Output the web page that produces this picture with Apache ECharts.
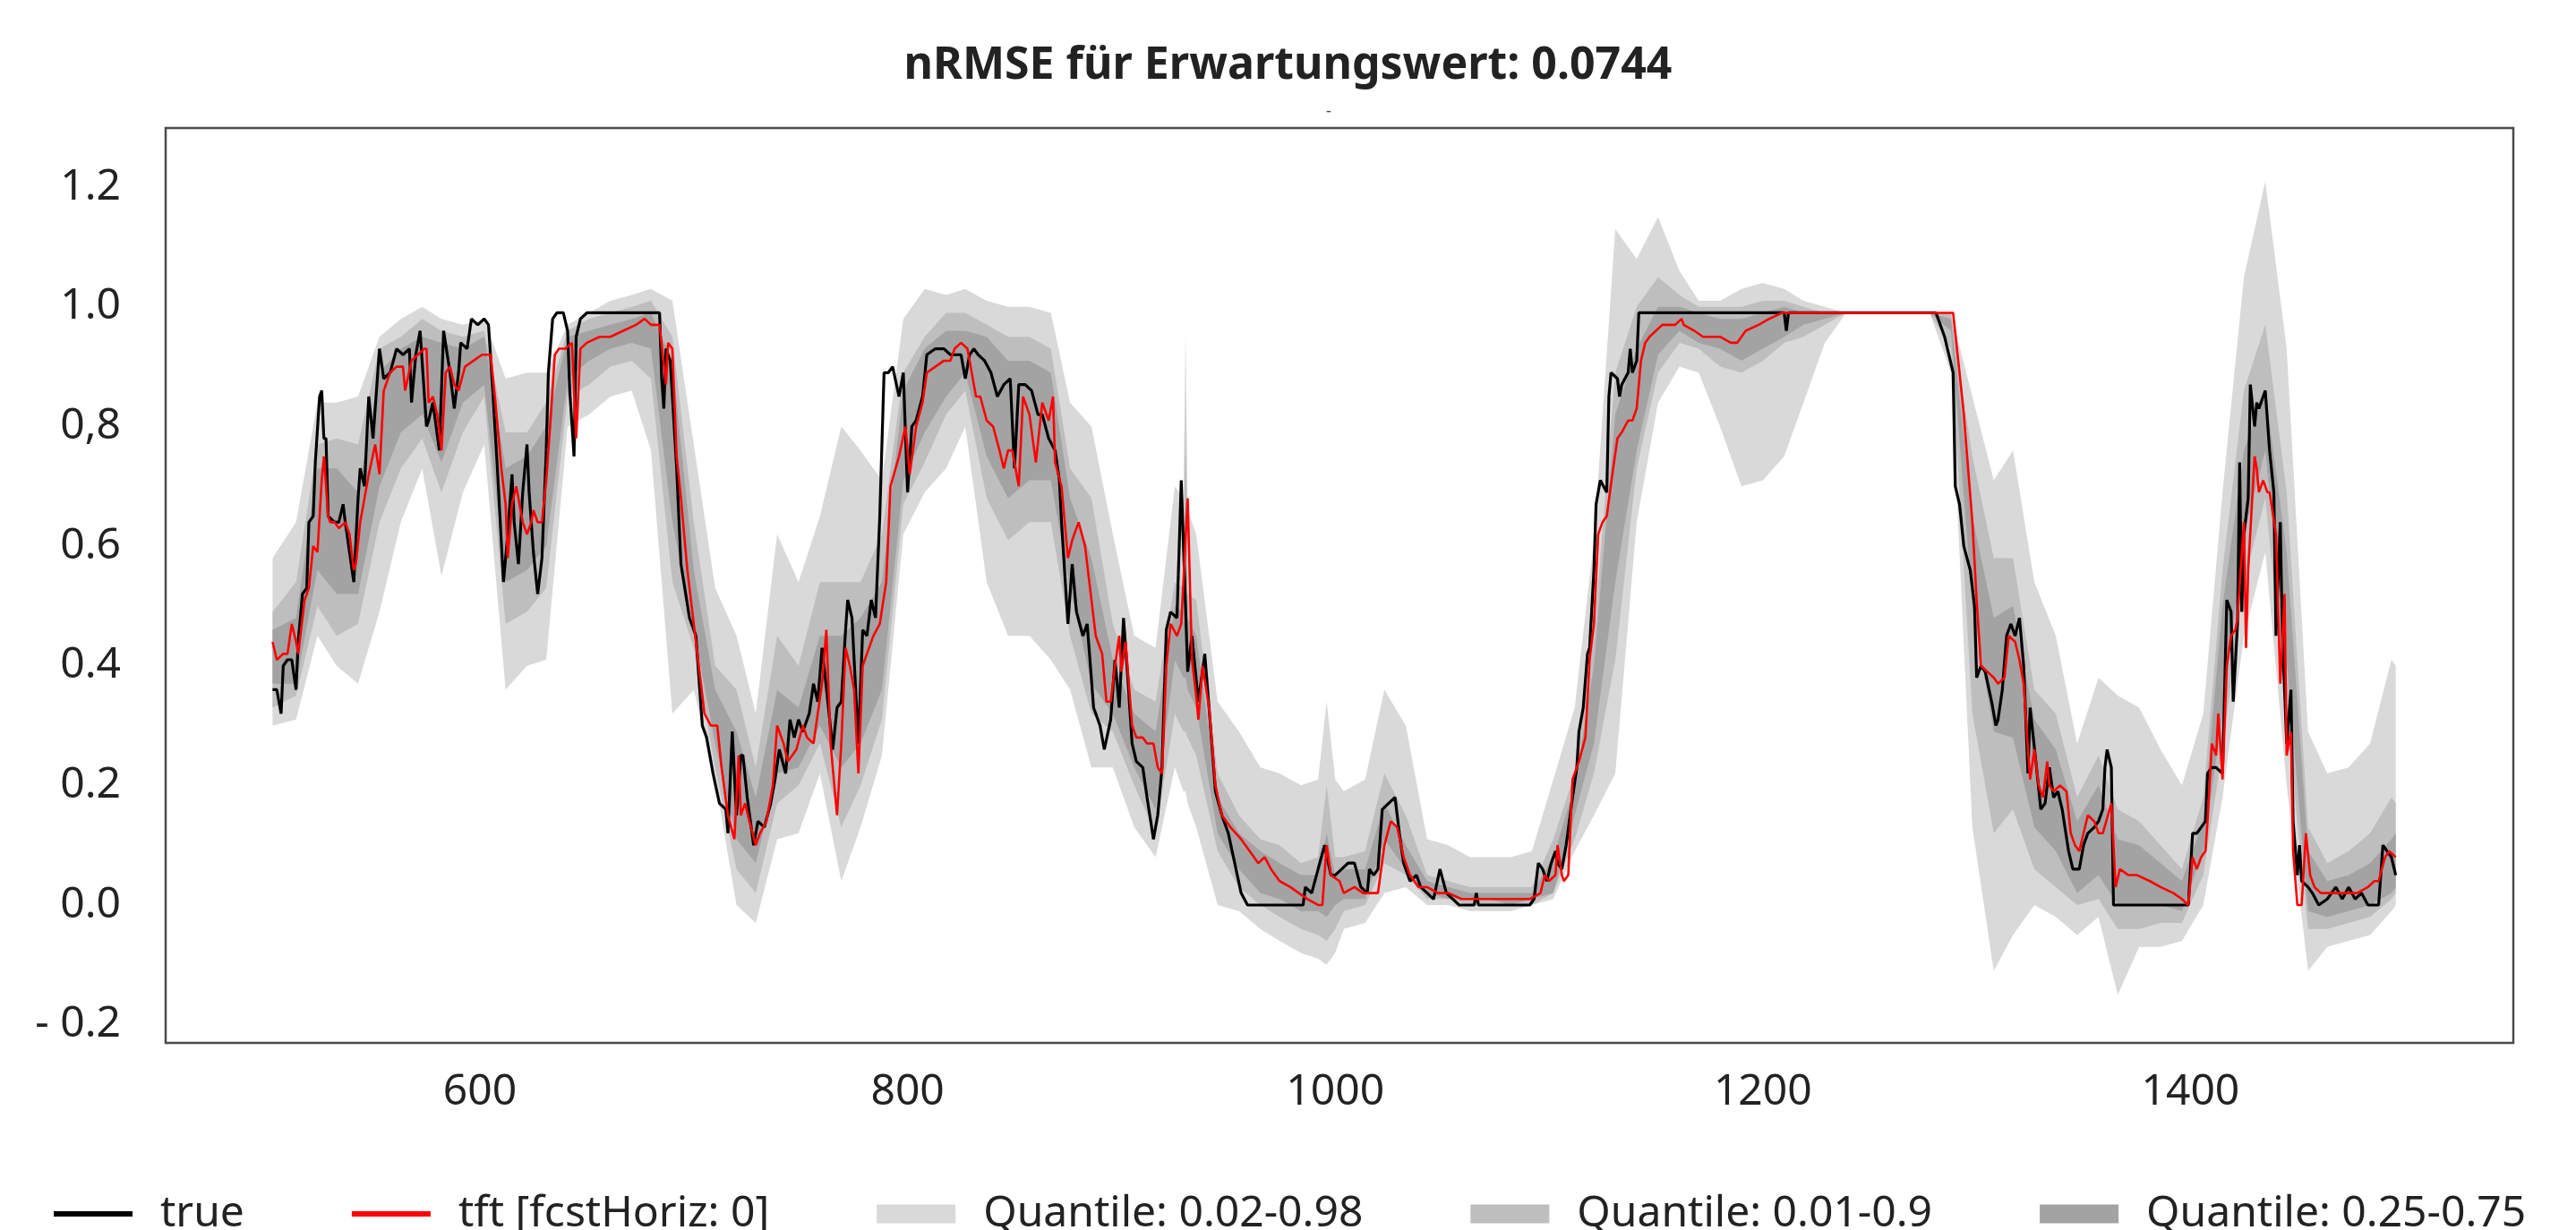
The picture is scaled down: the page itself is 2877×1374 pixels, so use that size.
<!DOCTYPE html>
<html>
<head>
<meta charset="utf-8">
<script src="https://cdn.jsdelivr.net/npm/echarts@6/dist/echarts.min.js"></script>
<style>
html, body { margin: 0; padding: 0; background: #ffffff; }
#main { width: 2877px; height: 1374px; }
</style>
</head>
<body>
<div id="main"></div>
<script>
// tick labels
var xTickValues = [600, 800, 1000, 1200, 1400];
var yTickValues = [-0.2, 0, 0.2, 0.4, 0.6, 0.8, 1.0, 1.2];
var yTickLabels = ['- 0.2', '0.0', '0.2', '0.4', '0.6', '0,8', '1.0', '1.2'];

// true values
var trueX = [
  503,505,507,508,510,512,514,515,517,519,
  520,522,523,525,526,527,528,529,532,534,
  536,537,539,541,543,544,546,548,550,553,
  555,558,561,564,567,568,570,572,575,576,
  578,581,583,586,588,590,591,594,596,599,
  602,604,606,608,611,613,615,616,618,620,
  622,623,625,627,629,631,632,634,636,639,
  641,642,644,645,647,650,653,667,684,685,
  686,687,689,692,694,698,701,704,706,709,
  712,715,716,718,720,722,723,725,728,730,
  733,736,738,740,743,745,747,749,751,754,
  756,758,760,763,765,767,769,771,772,774,
  777,779,781,783,785,787,789,791,793,796,
  798,800,802,804,807,809,813,817,820,822,
  825,827,829,831,833,836,839,842,845,848,
  850,852,855,858,861,863,866,869,871,872,
  875,877,879,882,884,887,890,892,895,897,
  899,901,903,905,907,910,912,915,917,919,
  921,923,926,928,930,931,933,936,939,941,
  944,947,950,953,956,959,985,986,989,992,
  995,998,1000,1003,1006,1009,1012,1015,1016,1018,
  1020,1022,1025,1028,1030,1032,1035,1038,1040,1043,
  1046,1049,1052,1055,1058,1065,1066,1067,1091,1093,
  1095,1097,1099,1101,1103,1104,1106,1108,1111,1113,
  1114,1116,1118,1119,1121,1122,1124,1127,1128,1129,
  1132,1133,1134,1137,1138,1139,1141,1142,1210,1211,
  1212,1281,1283,1285,1287,1289,1290,1292,1294,1297,
  1299,1300,1302,1304,1307,1309,1310,1312,1314,1316,
  1318,1320,1322,1324,1325,1328,1330,1332,1334,1336,
  1338,1340,1343,1345,1348,1350,1352,1355,1357,1359,
  1360,1361,1363,1364,1399,1401,1403,1405,1407,1408,
  1410,1412,1415,1417,1419,1420,1422,1423,1424,1425,
  1427,1428,1430,1431,1432,1435,1437,1439,1440,1442,
  1443,1445,1447,1448,1450,1451,1452,1455,1457,1460,
  1464,1468,1471,1474,1477,1480,1483,1488,1490,1492,
  1494,1496
];
var trueY = [
  .36,.36,.32,.40,.41,.41,.36,.44,.52,.53,
  .64,.65,.74,.85,.86,.78,.78,.65,.64,.64,
  .67,.64,.59,.54,.68,.73,.70,.85,.78,.93,
  .88,.89,.93,.92,.93,.84,.92,.96,.80,.81,
  .84,.76,.96,.89,.83,.89,.94,.93,.98,.97,
  .98,.97,.86,.74,.54,.62,.72,.64,.57,.69,
  .77,.69,.59,.52,.58,.76,.89,.98,.99,.99,
  .96,.86,.75,.95,.98,.99,.99,.99,.99,.88,
  .83,.93,.91,.73,.57,.48,.45,.30,.28,.22,
  .17,.16,.12,.29,.15,.25,.25,.18,.10,.14,
  .13,.17,.21,.26,.22,.31,.28,.31,.29,.32,
  .37,.34,.43,.33,.26,.33,.34,.46,.51,.48,
  .27,.46,.45,.51,.48,.65,.89,.89,.90,.85,
  .89,.69,.80,.81,.85,.92,.93,.93,.92,.92,
  .92,.88,.92,.93,.92,.91,.89,.85,.87,.88,
  .73,.87,.87,.86,.82,.82,.78,.76,.71,.64,
  .47,.57,.49,.45,.47,.33,.30,.26,.31,.41,
  .33,.48,.38,.27,.24,.23,.18,.11,.15,.23,
  .46,.49,.48,.71,.50,.39,.45,.34,.42,.33,
  .19,.15,.12,.07,.02,.00,.00,.03,.02,.06,
  .10,.05,.05,.06,.07,.07,.03,.02,.06,.05,
  .06,.16,.17,.18,.12,.07,.04,.05,.03,.02,
  .01,.06,.02,.01,.00,.00,.02,.00,.00,.01,
  .07,.06,.04,.07,.09,.07,.06,.10,.18,.23,
  .29,.33,.42,.43,.56,.67,.71,.69,.85,.89,
  .88,.85,.87,.89,.93,.89,.91,.99,.99,.96,
  .99,.99,.97,.95,.92,.89,.70,.67,.60,.56,
  .50,.38,.40,.39,.34,.30,.31,.36,.45,.47,
  .45,.48,.40,.22,.33,.23,.16,.17,.23,.18,
  .19,.16,.09,.06,.06,.10,.12,.13,.14,.16,
  .23,.26,.23,.00,.00,.12,.12,.13,.14,.22,
  .23,.23,.22,.51,.49,.34,.47,.74,.49,.62,
  .68,.87,.80,.84,.83,.86,.76,.69,.45,.64,
  .45,.27,.36,.14,.05,.10,.04,.03,.02,.00,
  .01,.03,.01,.03,.01,.02,.00,.00,.10,.09,
  .08,.05
];

// tft forecast, horizon 0
var predX = [
  503,505,508,510,512,514,515,518,520,522,
  524,526,527,529,530,532,534,537,539,541,
  542,544,546,548,551,553,555,558,561,564,
  565,568,571,574,575,576,578,580,582,584,
  586,588,590,593,597,601,605,607,610,612,
  613,615,617,620,622,624,625,627,629,631,
  633,635,637,640,643,645,647,650,656,661,
  667,673,677,680,684,687,688,690,692,694,
  697,699,702,705,708,711,713,716,719,721,
  722,724,726,729,731,734,737,739,742,744,
  746,748,751,753,756,758,760,762,764,767,
  769,770,771,773,775,777,779,781,784,787,
  790,792,796,799,801,804,807,809,813,817,
  820,822,825,828,829,832,834,837,840,843,
  845,847,849,852,854,857,860,863,866,868,
  869,872,875,877,880,883,885,888,891,893,
  895,897,899,900,902,905,907,910,912,915,
  917,919,921,923,926,928,931,933,935,936,
  938,941,944,947,951,956,960,964,967,970,
  974,979,983,987,992,994,996,998,1002,1004,
  1009,1013,1016,1020,1023,1026,1029,1032,1035,1039,
  1043,1048,1053,1059,1072,1087,1091,1096,1098,1100,
  1103,1104,1106,1107,1109,1111,1113,1114,1117,1119,
  1121,1123,1125,1127,1130,1132,1134,1137,1139,1141,
  1143,1145,1147,1150,1153,1156,1159,1162,1163,1168,
  1172,1176,1180,1185,1188,1192,1198,1203,1209,1219,
  1289,1292,1294,1296,1298,1300,1302,1305,1308,1310,
  1313,1315,1318,1320,1322,1324,1325,1327,1329,1331,
  1333,1334,1336,1339,1342,1344,1346,1348,1350,1352,
  1355,1357,1359,1363,1365,1367,1371,1375,1381,1386,
  1392,1396,1399,1401,1403,1405,1407,1408,1410,1412,
  1413,1415,1417,1419,1421,1422,1425,1426,1427,1430,
  1431,1432,1434,1436,1437,1440,1442,1444,1445,1447,
  1448,1450,1452,1454,1456,1458,1461,1466,1470,1474,
  1478,1483,1486,1488,1491,1493,1496
];
var predY = [
  .44,.41,.42,.42,.47,.44,.42,.51,.53,.60,
  .59,.71,.75,.65,.64,.64,.63,.64,.62,.56,
  .57,.64,.68,.72,.77,.72,.86,.89,.90,.90,
  .86,.91,.92,.93,.93,.84,.85,.82,.76,.89,
  .90,.87,.86,.90,.91,.92,.92,.85,.73,.67,
  .58,.67,.70,.64,.62,.64,.66,.64,.64,.71,
  .81,.92,.93,.93,.94,.78,.93,.94,.95,.95,
  .96,.97,.98,.97,.97,.87,.94,.93,.75,.68,
  .56,.50,.41,.32,.30,.30,.23,.15,.11,.25,
  .15,.17,.14,.10,.12,.14,.20,.30,.27,.24,
  .25,.26,.30,.28,.27,.32,.37,.46,.27,.15,
  .27,.35,.43,.40,.36,.22,.40,.42,.45,.47,
  .54,.70,.75,.80,.72,.80,.84,.89,.90,.91,
  .91,.93,.94,.93,.91,.85,.85,.81,.80,.76,
  .73,.76,.76,.70,.85,.82,.74,.84,.81,.85,
  .74,.70,.58,.61,.64,.60,.54,.45,.42,.34,
  .34,.40,.45,.39,.44,.30,.28,.28,.27,.27,
  .23,.22,.40,.47,.45,.47,.68,.41,.35,.31,
  .40,.33,.20,.15,.13,.11,.09,.07,.08,.06,
  .04,.03,.02,.01,.00,.00,.10,.05,.04,.02,
  .03,.02,.02,.02,.10,.14,.13,.08,.05,.03,
  .03,.02,.02,.01,.01,.01,.01,.02,.05,.04,
  .05,.10,.05,.04,.05,.21,.23,.24,.28,.41,
  .47,.62,.64,.65,.73,.78,.79,.81,.81,.83,
  .91,.94,.95,.96,.97,.97,.97,.98,.97,.96,
  .95,.95,.95,.94,.94,.96,.97,.98,.99,.99,
  .99,.89,.82,.73,.64,.51,.40,.39,.38,.37,
  .38,.45,.44,.41,.37,.26,.21,.26,.20,.18,
  .24,.20,.19,.20,.19,.12,.10,.09,.12,.15,
  .14,.12,.12,.17,.03,.06,.05,.05,.04,.03,
  .02,.01,.00,.08,.06,.08,.09,.14,.27,.25,
  .32,.21,.40,.45,.46,.48,.64,.43,.56,.75,
  .73,.69,.71,.69,.69,.62,.37,.52,.25,.29,
  .09,.00,.00,.12,.05,.03,.02,.02,.02,.02,
  .02,.03,.04,.04,.08,.09,.08
];

// quantile bands
var bandX = [
  503,514,524,533,543,553,563,573,582,592,
  602,612,622,631,641,651,661,671,680,690,
  700,710,720,729,739,749,759,769,778,788,
  798,808,818,827,837,847,857,867,876,886,
  896,906,916,925,929,930,931,935,945,955,965,974,984,
  992,996,1000,1004,1014,1023,1033,1043,1053,1063,1072,1082,
  1092,1102,1112,1121,1131,1141,1151,1161,1170,1180,
  1190,1200,1210,1219,1229,1239,1249,1259,1268,1278,
  1288,1298,1308,1317,1327,1337,1347,1357,1366,1376,
  1386,1396,1406,1415,1425,1435,1445,1455,1464,1474,
  1484,1494,1496
];
var q02Hi = [
  .58,.64,.84,.84,.85,.95,.98,1.00,.98,.97,
  .98,.88,.89,.89,.97,.99,1.01,1.02,1.03,1.01,
  .77,.53,.45,.32,.62,.54,.65,.80,.76,.71,
  .98,1.03,1.02,1.03,1.01,1.00,1.00,.99,.84,.80,
  .62,.45,.43,.70,.68,.96,.66,.62,.34,.29,.23,.22,.20,
  .21,.34,.21,.19,.21,.36,.30,.11,.10,.08,.08,.08,
  .09,.21,.33,.61,1.13,1.08,1.15,1.06,1.01,1.01,
  1.03,1.04,1.03,1.01,1.00,.99,.99,.99,.99,.99,
  .99,.85,.71,.76,.54,.45,.27,.38,.35,.33,
  .26,.20,.32,.69,1.05,1.21,.93,.29,.22,.23,
  .27,.41,.40
];
var q02Lo = [
  .30,.31,.45,.40,.37,.49,.64,.73,.55,.69,
  .77,.36,.40,.41,.80,.82,.85,.86,.76,.32,
  .36,.21,.00,-.03,.11,.12,.22,.04,.13,.25,
  .62,.69,.73,.80,.54,.45,.45,.41,.36,.23,
  .23,.13,.08,.23,.19,.19,.17,.13,.00,-.01,-.04,-.06,-.08,
  -.09,-.10,-.08,-.04,-.03,.02,.03,.00,.00,-.01,-.01,-.01,
  .00,.01,.09,.15,.22,.64,.84,.90,.89,.80,
  .70,.71,.75,.84,.94,.99,.99,.99,.99,.99,
  .89,.13,-.11,-.05,.00,-.02,-.05,-.02,-.15,-.07,
  -.07,-.06,.00,.18,.45,.59,.20,-.11,-.07,-.06,
  -.05,-.01,.00
];
var q01Hi = [
  .49,.54,.77,.78,.77,.93,.95,.98,.96,.95,
  .96,.79,.79,.84,.96,.98,.99,1.00,1.01,.95,
  .64,.40,.36,.23,.45,.40,.54,.54,.54,.62,
  .89,.95,.99,.99,.97,.95,.95,.93,.73,.68,
  .47,.36,.34,.54,.53,.84,.52,.51,.22,.15,.11,.10,.07,
  .08,.20,.08,.08,.09,.22,.15,.05,.04,.03,.03,.03,
  .03,.11,.22,.45,.89,1.00,1.05,1.02,1.00,1.00,
  1.00,1.01,1.01,1.00,.99,.99,.99,.99,.99,.99,
  .99,.75,.58,.58,.36,.32,.18,.25,.16,.14,
  .10,.06,.18,.56,.86,.97,.69,.13,.07,.09,
  .12,.18,.17
];
var q01Lo = [
  .33,.35,.50,.45,.47,.64,.73,.78,.69,.79,
  .85,.47,.49,.53,.85,.87,.90,.91,.88,.54,
  .43,.23,.06,.02,.17,.20,.27,.13,.20,.31,
  .67,.74,.82,.86,.68,.61,.64,.64,.45,.32,
  .29,.20,.12,.32,.29,.29,.28,.25,.09,.03,.00,-.02,-.04,
  -.05,-.06,-.04,-.01,.00,.07,.05,.01,.01,.00,.00,.00,
  .00,.02,.11,.22,.41,.73,.89,.94,.93,.90,
  .89,.91,.94,.95,.97,.99,.99,.99,.99,.99,
  .93,.32,.12,.16,.06,.03,.00,.01,-.04,-.04,
  -.03,-.03,.05,.26,.54,.68,.32,-.04,-.04,-.03,
  -.02,.01,.02
];
var q25Hi = [
  .46,.48,.73,.73,.69,.89,.93,.95,.94,.93,
  .95,.73,.75,.80,.95,.96,.97,.98,.99,.91,
  .56,.36,.29,.18,.36,.33,.45,.45,.48,.54,
  .86,.93,.96,.96,.95,.91,.91,.89,.68,.58,
  .41,.32,.29,.50,.49,.70,.48,.45,.18,.12,.09,.07,.05,
  .05,.12,.05,.06,.06,.17,.10,.04,.03,.02,.02,.02,
  .02,.08,.20,.40,.82,.93,1.00,1.00,.99,.98,
  .98,.99,1.00,.99,.99,.99,.99,.99,.99,.99,
  .98,.65,.48,.50,.31,.26,.14,.20,.11,.10,
  .07,.04,.14,.50,.76,.86,.59,.09,.04,.05,
  .07,.11,.12
];
var q25Lo = [
  .37,.37,.56,.52,.52,.70,.79,.82,.74,.84,
  .87,.54,.56,.60,.88,.91,.93,.94,.93,.64,
  .46,.27,.11,.07,.22,.23,.30,.23,.27,.36,
  .71,.79,.85,.89,.75,.68,.71,.71,.53,.37,
  .32,.23,.16,.41,.38,.38,.36,.33,.12,.06,.02,.01,-.01,
  -.01,-.02,.00,.01,.01,.11,.06,.02,.01,.01,.01,.00,
  .01,.02,.15,.27,.54,.76,.92,.96,.94,.93,
  .91,.93,.95,.97,.98,.99,.99,.99,.99,.99,
  .96,.50,.29,.28,.13,.09,.02,.05,.00,.00,
  .00,-.01,.09,.32,.62,.76,.41,-.01,-.02,-.01,
  .00,.02,.03
];

function zip(xs, ys) {
  var out = [];
  for (var i = 0; i < xs.length; i++) out.push([xs[i], ys[i]]);
  return out;
}
// one filled polygon per band, points mapped through the chart's own axes
function bandSeries(label, lo, hi, color, z) {
  return {
    name: label, type: 'custom', silent: true, clip: true, z: z,
    color: color, itemStyle: { color: color },
    data: bandX.map(function (x, i) { return [x, lo[i], hi[i]]; }),
    encode: { x: 0, y: [1, 2] },
    renderItem: function (params, api) {
      if (params.dataIndex !== 0) return null;
      var pts = [];
      for (var i = 0; i < bandX.length; i++) pts.push(api.coord([bandX[i], hi[i]]));
      for (var j = bandX.length - 1; j >= 0; j--) pts.push(api.coord([bandX[j], lo[j]]));
      return { type: 'polygon', shape: { points: pts }, style: { fill: color } };
    }
  };
}

var chart = echarts.init(document.getElementById('main'));
var font = 'Noto Sans';

var series = [
  bandSeries('Quantile: 0.02-0.98', q02Lo, q02Hi, '#d9d9d9', 1),
  bandSeries('Quantile: 0.01-0.9', q01Lo, q01Hi, '#bebebe', 2),
  bandSeries('Quantile: 0.25-0.75', q25Lo, q25Hi, '#a3a3a3', 3),
  {
    name: 'true', type: 'line', data: zip(trueX, trueY), symbol: 'none', silent: true,
    color: '#000000', lineStyle: { width: 3.2, color: '#000000' }, z: 4
  },
  {
    name: 'tft [fcstHoriz: 0]', type: 'line', data: zip(predX, predY), symbol: 'none', silent: true,
    color: '#ff0000', lineStyle: { width: 2.6, color: '#ff0000' }, z: 5
  }
];

var lineIcon = 'path://M0,0 L88,0 L88,6 L0,6 Z';

var option = {
  animation: false,
  backgroundColor: '#ffffff',
  textStyle: { fontFamily: font },
  title: [
    {
      text: 'nRMSE für Erwartungswert: 0.0744',
      left: 'center', top: 44, padding: 0,
      textStyle: { fontFamily: font, fontSize: 50, fontWeight: 'bold', color: '#222222', lineHeight: 60 }
    },
    {
      text: '-', left: 1481, top: 116, padding: 0,
      textStyle: { fontFamily: font, fontSize: 18, fontWeight: 'normal', color: '#444444' }
    }
  ],
  grid: {
    left: 185, right: 70, top: 143, bottom: 209,
    show: true, borderColor: '#4a4a4a', borderWidth: 2.5,
    outerBoundsMode: 'none'
  },
  legend: {
    left: 60, top: 1330, padding: 0,
    itemWidth: 88, itemHeight: 21, itemGap: 120, symbolKeepAspect: true,
    textStyle: { fontFamily: font, fontSize: 48, color: '#222222', lineHeight: 52, padding: [0, 0, 0, 26] },
    data: [
      { name: 'true', icon: lineIcon, itemStyle: { color: '#000000' } },
      { name: 'tft [fcstHoriz: 0]', icon: lineIcon, itemStyle: { color: '#ff0000' } },
      { name: 'Quantile: 0.02-0.98', icon: 'rect' },
      { name: 'Quantile: 0.01-0.9', icon: 'rect' },
      { name: 'Quantile: 0.25-0.75', icon: 'rect' }
    ]
  },
  xAxis: {
    type: 'value', min: 453, max: 1551,
    splitLine: { show: false }, axisLine: { show: false }, axisTick: { show: false },
    axisLabel: {
      customValues: xTickValues, fontFamily: font, fontSize: 48, color: '#222222',
      lineHeight: 48, margin: 31,
      formatter: function (v) { return String(v); }
    }
  },
  yAxis: {
    type: 'value', min: -0.2305, max: 1.299,
    splitLine: { show: false }, axisLine: { show: false }, axisTick: { show: false },
    axisLabel: {
      customValues: yTickValues, fontFamily: font, fontSize: 48, color: '#222222', margin: 50,
      formatter: function (v) {
        for (var i = 0; i < yTickValues.length; i++) {
          if (Math.abs(yTickValues[i] - v) < 1e-6) return yTickLabels[i];
        }
        return '';
      }
    }
  },
  series: series
};
chart.setOption(option);
</script>
</body>
</html>
